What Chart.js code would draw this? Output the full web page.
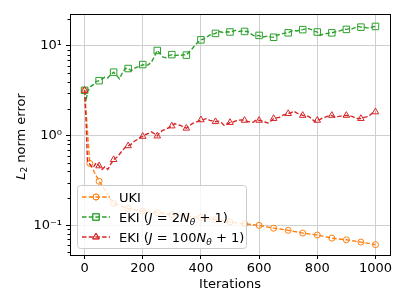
<!DOCTYPE html>
<html>
<head>
<meta charset="utf-8">
<script src="https://cdn.jsdelivr.net/npm/chart.js@4.4.0/dist/chart.umd.min.js"></script>
<style>
  html, body { margin: 0; padding: 0; background: #fff; }
  canvas { display: block; }
</style>
</head>
<body>
<canvas id="errChart" width="407" height="305"></canvas>
<script>
// values

// UKI, markers at every point
const ukiIters = [0, 18, 50, 100, 150, 200, 250, 300, 350, 400, 450, 500,
                  550, 600, 650, 700, 750, 800, 850, 900, 950, 1000];
const ukiError = [3.2, 0.49, 0.31, 0.175, 0.154, 0.144, 0.139, 0.132, 0.126, 0.122, 0.116, 0.109,
                  0.104, 0.100, 0.093, 0.088, 0.082, 0.078, 0.072, 0.069, 0.065, 0.061];

// EKI runs, sampled every 10 iterations (markers every 50)
const ekiIters = [0, 5, 10, 20, 30, 40, 50, 60, 70, 80,
                  90, 100, 110, 120, 130, 140, 150, 160, 170, 180,
                  190, 200, 210, 220, 230, 240, 250, 260, 270, 280,
                  290, 300, 310, 320, 330, 340, 350, 360, 370, 380,
                  390, 400, 410, 420, 430, 440, 450, 460, 470, 480,
                  490, 500, 510, 520, 530, 540, 550, 560, 570, 580,
                  590, 600, 610, 620, 630, 640, 650, 660, 670, 680,
                  690, 700, 710, 720, 730, 740, 750, 760, 770, 780,
                  790, 800, 810, 820, 830, 840, 850, 860, 870, 880,
                  890, 900, 910, 920, 930, 940, 950, 960, 970, 980,
                  990, 1000];
const eki2Error = [3.2, 2.4, 3.1, 3.5, 3.7, 4.0, 4.1, 4.3, 4.5, 4.4,
                   4.8, 5.1, 4.7, 4.3, 5.0, 5.6, 5.6, 5.3, 5.6, 5.8,
                   5.9, 6.2, 6.0, 6.2, 6.6, 7.6, 8.9, 8.2, 7.5, 7.4,
                   7.8, 8.0, 7.8, 7.9, 7.8, 8.0, 7.9, 8.6, 9.3, 10.2,
                   11.0, 11.7, 12.0, 12.5, 13.2, 13.5, 13.8, 14.5, 14.3, 14.0,
                   14.4, 14.3, 14.6, 14.9, 14.5, 14.7, 14.5, 14.6, 13.8, 13.1,
                   12.9, 13.1, 12.5, 12.7, 12.9, 12.6, 12.5, 13.1, 13.4, 13.7,
                   13.9, 14.0, 14.6, 14.9, 14.7, 15.0, 15.2, 15.5, 15.6, 15.2,
                   14.6, 14.3, 13.1, 13.5, 13.7, 13.9, 14.0, 14.3, 14.6, 14.8,
                   15.3, 15.3, 15.6, 15.5, 16.0, 16.5, 16.2, 16.2, 15.9, 15.9,
                   16.3, 16.5];
const eki100Error = [3.2, 1.5, 0.52, 0.47, 0.44, 0.50, 0.46, 0.42, 0.45, 0.42,
                     0.48, 0.54, 0.57, 0.62, 0.68, 0.74, 0.77, 0.80, 0.86, 0.90,
                     0.95, 0.98, 1.03, 1.06, 1.10, 1.05, 0.99, 1.10, 1.15, 1.18,
                     1.23, 1.28, 1.36, 1.32, 1.30, 1.25, 1.21, 1.28, 1.36, 1.40,
                     1.44, 1.50, 1.52, 1.55, 1.48, 1.46, 1.43, 1.45, 1.40, 1.30,
                     1.35, 1.40, 1.42, 1.46, 1.48, 1.50, 1.48, 1.44, 1.42, 1.41,
                     1.50, 1.48, 1.46, 1.42, 1.38, 1.45, 1.55, 1.58, 1.60, 1.68,
                     1.72, 1.76, 1.80, 1.87, 1.78, 1.74, 1.68, 1.66, 1.64, 1.55,
                     1.44, 1.48, 1.52, 1.58, 1.62, 1.66, 1.68, 1.62, 1.63, 1.65,
                     1.67, 1.68, 1.66, 1.64, 1.58, 1.55, 1.55, 1.60, 1.62, 1.68,
                     1.79, 1.84];

const xTicks = [0, 200, 400, 600, 800, 1000];
const yTicks = [0.05, 0.06, 0.07, 0.08, 0.09,
                0.1, 0.2, 0.3, 0.4, 0.5, 0.6, 0.7, 0.8, 0.9,
                1, 2, 3, 4, 5, 6, 7, 8, 9,
                10, 20];
const yMajor = [0.1, 1, 10];
const yMajorLabels = ['10\u207B\u00B9', '10\u2070', '10\u00B9'];

const FONT = "'DejaVu Sans', sans-serif";
const ORANGE = '#ff7f0e', GREEN = '#2ca02c', RED = '#d62728';
const DASH = [4.5, 2.2];

function pairs(xs, ys) {
    return xs.map((x, i) => ({ x: x, y: ys[i] }));
}
function isMajor(v) {
    return yMajor.some(m => Math.abs(m - v) < 1e-9);
}

// legend entries: text split into pieces for the math parts
const legendItems = [
    { color: ORANGE, style: 'circle', radius: 3, parts: [['UKI']] },
    { color: GREEN, style: 'rect', radius: 4.6,
      parts: [['EKI ('], ['J', 'i'], [' = 2'], ['N', 'i'], ['\u03B8', 's'], [' + 1)']] },
    { color: RED, style: 'triangle', radius: 3.8,
      parts: [['EKI ('], ['J', 'i'], [' = 100'], ['N', 'i'], ['\u03B8', 's'], [' + 1)']] }
];

function drawParts(ctx, parts, x, y, size) {
    ctx.textBaseline = 'alphabetic';
    ctx.textAlign = 'left';
    for (const [t, kind] of parts) {
        if (kind === 's') {
            ctx.font = 'italic ' + Math.round(size * 0.7) + 'px ' + FONT;
            ctx.fillText(t, x, y + size * 0.22);
        } else {
            ctx.font = (kind === 'i' ? 'italic ' : '') + size + 'px ' + FONT;
            ctx.fillText(t, x, y);
        }
        x += ctx.measureText(t).width;
    }
    return x;
}

const decorPlugin = {
    id: 'decor',
    afterDraw(chart) {
        const ctx = chart.ctx;
        const a = chart.chartArea;
        const ys = chart.scales.y;
        ctx.save();

        // minor ticks on the log axis
        ctx.strokeStyle = '#000';
        ctx.lineWidth = 1;
        ctx.beginPath();
        yTicks.forEach(v => {
            if (isMajor(v)) return;
            const py = Math.round(ys.getPixelForValue(v)) + 0.5;
            ctx.moveTo(a.left - 2.5, py);
            ctx.lineTo(a.left, py);
        });
        ctx.stroke();

        // frame
        ctx.strokeRect(Math.round(a.left) + 0.5, Math.round(a.top) + 0.5,
                       Math.round(a.right - a.left), Math.round(a.bottom - a.top));

        // y axis title: L_2 norm error
        ctx.fillStyle = '#000';
        ctx.translate(22, (a.top + a.bottom) / 2 + 2);
        ctx.rotate(-Math.PI / 2);
        const tparts = [['L', 'i'], ['2', 'sub'], [' norm error']];
        const fontOf = k => (k === 'i' ? 'italic 13px ' : k === 'sub' ? '9px ' : '13px ') + FONT;
        let w = 0;
        tparts.forEach(([t, k]) => {
            ctx.font = fontOf(k);
            w += ctx.measureText(t).width;
        });
        let tx = -w / 2;
        ctx.textBaseline = 'middle';
        tparts.forEach(([t, k]) => {
            ctx.font = fontOf(k);
            ctx.fillText(t, tx, k === 'sub' ? 3 : 0);
            tx += ctx.measureText(t).width;
        });
        ctx.restore();

        // legend box, lower left
        ctx.save();
        const bx = a.left + 7, by = a.bottom - 70, bw = 169, bh = 63;
        ctx.fillStyle = 'rgba(255,255,255,0.8)';
        ctx.strokeStyle = '#cccccc';
        ctx.lineWidth = 1;
        ctx.beginPath();
        ctx.roundRect(bx + 0.5, by + 0.5, bw, bh, 3);
        ctx.fill();
        ctx.stroke();

        legendItems.forEach((item, i) => {
            const ry = by + 12 + i * 20;
            ctx.strokeStyle = item.color;
            ctx.lineWidth = 1.4;
            ctx.setLineDash(DASH);
            ctx.beginPath();
            ctx.moveTo(bx + 5, ry);
            ctx.lineTo(bx + 33, ry);
            ctx.stroke();
            ctx.setLineDash([]);
            ctx.lineWidth = 1;
            ctx.fillStyle = 'rgba(255,255,255,0)';
            Chart.helpers.drawPoint(ctx, { pointStyle: item.style, radius: item.radius, borderWidth: 1 },
                                    bx + 19, ry);
            ctx.stroke();
            ctx.fillStyle = '#000';
            drawParts(ctx, item.parts, bx + 42, ry + 5, 13);
        });
        ctx.restore();
    }
};

const ekiRadius = r => ctx => (ekiIters[ctx.dataIndex] % 50 === 0 ? r : 0);

function series(label, iters, values, color, style, radius, order) {
    return {
        label: label,
        data: pairs(iters, values),
        borderColor: color,
        borderWidth: 1.4,
        borderDash: DASH,
        pointStyle: style,
        pointRadius: radius,
        pointBorderWidth: 1,
        pointBorderColor: color,
        pointBackgroundColor: 'rgba(0,0,0,0)',
        tension: 0,
        order: order
    };
}

new Chart(document.getElementById('errChart'), {
    type: 'line',
    data: {
        datasets: [
            series('UKI', ukiIters, ukiError, ORANGE, 'circle', 3, 3),
            series('EKI (J = 2Nθ + 1)', ekiIters, eki2Error, GREEN, 'rect', ekiRadius(4.6), 2),
            series('EKI (J = 100Nθ + 1)', ekiIters, eki100Error, RED, 'triangle', ekiRadius(3.8), 1)
        ]
    },
    options: {
        responsive: false,
        animation: false,
        devicePixelRatio: 1,
        events: [],
        layout: { padding: { top: 14, right: 17, left: 0, bottom: 0 } },
        plugins: {
            legend: { display: false },
            tooltip: { enabled: false }
        },
        scales: {
            x: {
                type: 'linear',
                min: -50,
                max: 1050,
                afterBuildTicks: scale => { scale.ticks = xTicks.map(v => ({ value: v })); },
                afterFit: scale => { scale.height = 50; scale.paddingLeft = 0; scale.paddingRight = 0; },
                grid: { color: '#cfcfcf', lineWidth: 1, tickColor: '#000', tickLength: 4 },
                border: { color: '#000', width: 1 },
                ticks: {
                    color: '#000', font: { family: FONT, size: 13 }, padding: 2, maxRotation: 0,
                    callback: v => String(v)
                },
                title: {
                    display: true, text: 'Iterations', color: '#000',
                    font: { family: FONT, size: 13 }, padding: { top: 0, bottom: 13 }
                }
            },
            y: {
                type: 'logarithmic',
                min: 0.0467,
                max: 22.7,
                afterBuildTicks: scale => { scale.ticks = yTicks.map(v => ({ value: v })); },
                afterFit: scale => { scale.width = 70; scale.paddingTop = 0; scale.paddingBottom = 0; },
                grid: {
                    color: c => (c.tick && isMajor(c.tick.value) ? '#cfcfcf' : 'rgba(0,0,0,0)'),
                    tickColor: c => (c.tick && isMajor(c.tick.value) ? '#000' : 'rgba(0,0,0,0)'),
                    lineWidth: 1,
                    tickLength: 4
                },
                border: { color: '#000', width: 1 },
                ticks: {
                    autoSkip: false,
                    color: '#000',
                    font: { family: FONT, size: 13 },
                    padding: 4,
                    callback: v => {
                        const k = yMajor.findIndex(m => Math.abs(m - v) < 1e-9);
                        return k >= 0 ? yMajorLabels[k] : '';
                    }
                }
            }
        }
    },
    plugins: [decorPlugin]
});
</script>
</body>
</html>
